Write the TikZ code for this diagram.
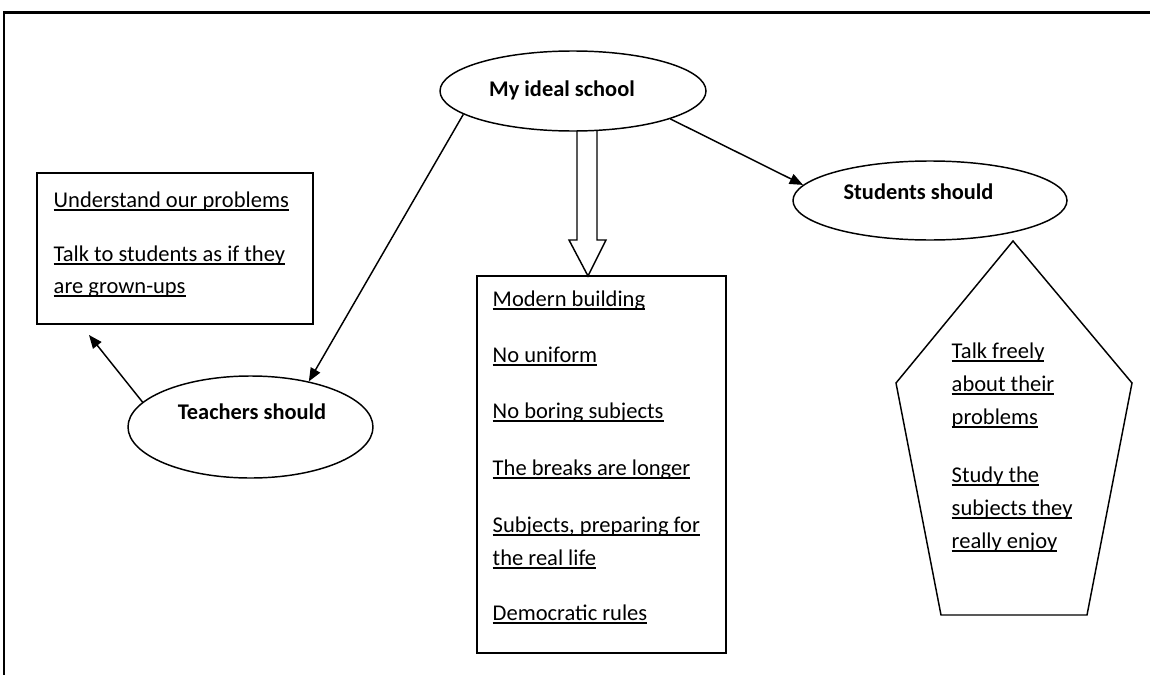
\documentclass[tikz,border=0pt]{standalone}
\usepackage{fontspec}
\setmainfont{Carlito}
\usetikzlibrary{shapes.geometric,arrows.meta}

% underline close to the baseline, as in a word processor
\newcommand{\uln}[1]{\setbox0=\hbox{#1}\rlap{\rule[-0.17em]{\wd0}{0.065em}}\box0}

\tikzset{every picture/.style={line width=1.1pt}}

\begin{document}
\begin{tikzpicture}[x=0.75pt,y=0.75pt,yscale=-1,xscale=1,
	oval/.style={draw, ellipse, inner sep=0pt},
	boxed/.style={draw, rectangle, inner sep=0pt},
	entry/.style={anchor=base west, inner sep=0pt, font=\fontsize{16.9}{20}\selectfont},
	heading/.style={anchor=base, inner sep=0pt, font=\fontsize{16.8}{20}\selectfont\bfseries},
	link/.style={-{Triangle[length=10pt,width=8pt]}}]
	\useasboundingbox (0,0) rectangle (1150,675);

	%page frame (top and left edge)
	\draw [line width=1.6pt] (1150,12.5) -- (4,12.5) -- (4,675) ;

	%Ellipses
	\node [oval, minimum width=199.5pt, minimum height=60pt] (ideal) at (573,91) {};
	\node [oval, minimum width=183.75pt, minimum height=76.5pt] (teach) at (250.5,427) {};
	\node [oval, minimum width=205.5pt, minimum height=59.25pt] (stud) at (930,200.5) {};

	\node [heading] (ideal-t) at (562,96) {My ideal school};
	\node [heading] (teach-t) at (252,419) {Teachers should};
	\node [heading] (stud-t) at (918.5,199) {Students should};

	%Boxes
	\node [boxed, minimum width=207pt, minimum height=113.25pt] (tbox) at (175,248.5) {};
	\node [boxed, minimum width=186.75pt, minimum height=282.75pt] (mid) at (601.5,464.5) {};

	%Pentagon
	\draw (1013,241) -- (1132,383) -- (1087,615) -- (941,615) -- (896,383) -- cycle ;

	%Arrows
	\coordinate (tbox-tip) at (89,335);
	\draw [link] (ideal.192) -- (teach.38) ;
	\draw [link] (ideal.344) -- (stud.173) ;
	\draw [link] (teach.167) -- (tbox-tip) ;
	%block arrow down to the middle box
	\draw (577,131) -- (577,240) -- (569,240) -- (588,276) -- (606,240) -- (597,240) -- (597,131) ;

	% Text: teachers box
	\node [entry] (t1) at (53,207) {\uln{Understand our problems}};
	\node [entry] (t2) at (53,261) {\uln{Talk to students as if they}};
	\node [entry] (t3) at (53,293) {\uln{are grown-ups}};

	% Text: middle box
	\node [entry] (m1) at (492,306) {\uln{Modern building}};
	\node [entry] (m2) at (492,362) {\uln{No uniform}};
	\node [entry] (m3) at (492,418) {\uln{No boring subjects}};
	\node [entry] (m4) at (492,475) {\uln{The breaks are longer}};
	\node [entry] (m5) at (492,532) {\uln{Subjects, preparing for}};
	\node [entry] (m6) at (492,565) {\uln{the real life}};
	\node [entry] (m7) at (492,620) {\uln{Democratic rules}};

	% Text: pentagon
	\node [entry] (s1) at (951,358) {\uln{Talk freely}};
	\node [entry] (s2) at (951,391) {\uln{about their}};
	\node [entry] (s3) at (951,424) {\uln{problems}};
	\node [entry] (s4) at (951,482) {\uln{Study the}};
	\node [entry] (s5) at (951,515) {\uln{subjects they}};
	\node [entry] (s6) at (951,548) {\uln{really enjoy}};

\end{tikzpicture}
\end{document}
